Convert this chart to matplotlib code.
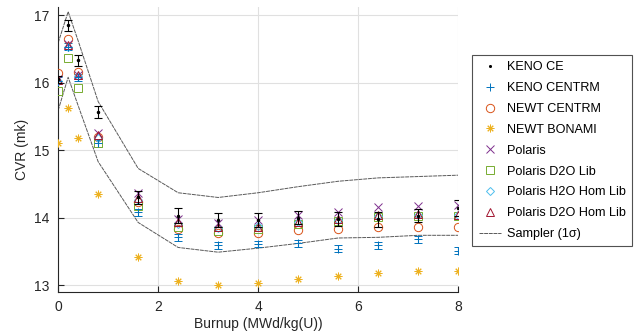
import matplotlib
matplotlib.use('Agg')
import matplotlib.pyplot as plt
from matplotlib.lines import Line2D

plt.rcParams['font.family'] = ['Liberation Sans', 'DejaVu Sans']

# burnup steps (MWd/kg(U))
burnup = [0, 0.2, 0.4, 0.8, 1.6, 2.4, 3.2, 4.0, 4.8, 5.6, 6.4, 7.2, 8.0]

# CVR values (mk)
keno_ce     = [16.05, 16.85, 16.33, 15.57, 14.30, 14.03, 13.97, 13.97, 14.00, 13.98, 13.98, 14.03, 14.15]
keno_ce_err = [0.05, 0.08, 0.08, 0.09, 0.10, 0.11, 0.10, 0.10, 0.10, 0.10, 0.11, 0.10, 0.12]
keno_centrm     = [16.03, 16.53, 16.08, 15.10, 14.08, 13.71, 13.59, 13.61, 13.62, 13.54, 13.59, 13.68, 13.51]
keno_centrm_err = [0.05] * 13
newt_centrm = [16.14, 16.65, 16.16, 15.20, 14.24, 13.84, 13.78, 13.77, 13.82, 13.83, 13.86, 13.87, 13.86]
newt_bonami = [15.10, 15.62, 15.18, 14.35, 13.42, 13.07, 13.00, 13.03, 13.10, 13.14, 13.18, 13.21, 13.21]
polaris     = [16.06, 16.57, 16.12, 15.25, 14.36, 13.98, 13.92, 13.96, 14.04, 14.08, 14.16, 14.17, 14.19]
polaris_d2o = [15.87, 16.37, 15.92, 15.10, 14.18, 13.86, 13.80, 13.83, 13.90, 13.95, 14.01, 14.02, 14.03]
polaris_h2o_hom = [16.03, 16.53, 16.10, 15.18, 14.26, 13.90, 13.85, 13.88, 13.93, 13.97, 14.02, 14.04, 14.04]
polaris_d2o_hom = [16.04, 16.56, 16.12, 15.23, 14.29, 13.93, 13.86, 13.87, 13.94, 13.98, 14.04, 14.05, 14.04]

# Sampler 1-sigma band
sampler_upper = [16.59, 17.05, 16.62, 15.72, 14.73, 14.37, 14.30, 14.37, 14.46, 14.54, 14.59, 14.61, 14.63]
sampler_lower = [15.59, 16.08, 15.66, 14.83, 13.93, 13.56, 13.49, 13.55, 13.62, 13.70, 13.71, 13.74, 13.74]

C_BLUE   = (0, 0.447, 0.741)
C_ORANGE = (0.85, 0.325, 0.098)
C_YELLOW = (0.929, 0.694, 0.125)
C_PURPLE = (0.494, 0.184, 0.556)
C_GREEN  = (0.466, 0.674, 0.188)
C_CYAN   = (0.301, 0.745, 0.933)
C_RED    = (0.635, 0.078, 0.184)
ASTERISK = (8, 2, 0)

fig = plt.figure(figsize=(6.39, 3.33), dpi=100)
ax = fig.add_axes([0.091, 0.123, 0.626, 0.856])

band_style = dict(color='0.35', linewidth=0.7, linestyle=(0, (4, 0.8)))
ax.plot(burnup, sampler_upper, zorder=2, **band_style)
ax.plot(burnup, sampler_lower, zorder=2, **band_style)

ms = 6
mew = 0.7
ax.errorbar(burnup, keno_ce, yerr=keno_ce_err, fmt='.', color='black',
            markersize=3, elinewidth=0.8, capsize=3, capthick=0.8, zorder=4)
ax.errorbar(burnup, keno_centrm, yerr=keno_centrm_err, fmt='+', color=C_BLUE,
            markersize=ms, markeredgewidth=mew, elinewidth=0.8, capsize=3,
            capthick=0.8, zorder=3)
ax.plot(burnup, newt_centrm, 'o', color=C_ORANGE, markerfacecolor='none',
        markersize=ms, markeredgewidth=mew, zorder=3)
ax.plot(burnup, newt_bonami, marker=ASTERISK, linestyle='none', color=C_YELLOW,
        markersize=5.5, markeredgewidth=mew, zorder=3)
ax.plot(burnup, polaris, 'x', color=C_PURPLE,
        markersize=ms, markeredgewidth=mew, zorder=3)
ax.plot(burnup, polaris_d2o, 's', color=C_GREEN, markerfacecolor='none',
        markersize=ms, markeredgewidth=mew, zorder=3)
ax.plot(burnup, polaris_h2o_hom, 'D', color=C_CYAN, markerfacecolor='none',
        markersize=4.5, markeredgewidth=mew, zorder=3)
ax.plot(burnup, polaris_d2o_hom, '^', color=C_RED, markerfacecolor='none',
        markersize=ms, markeredgewidth=mew, zorder=3)

ax.set_xlim(0, 8)
ax.set_ylim(12.9, 17.12)
ax.set_xticks([0, 2, 4, 6, 8])
ax.set_yticks([13, 14, 15, 16, 17])
ax.grid(True, color='0.88', linewidth=0.8)
ax.set_axisbelow(True)

for side in ['top', 'right']:
    ax.spines[side].set_visible(False)
for side in ['left', 'bottom']:
    ax.spines[side].set_color('0.15')
    ax.spines[side].set_linewidth(0.8)
ax.tick_params(direction='in', length=4, width=0.8, colors='0.15', labelsize=10, pad=6)

ax.set_xlabel('Burnup (MWd/kg(U))', fontsize=10, color='0.15', labelpad=2)
ax.set_ylabel('CVR (mk)', fontsize=10, color='0.15', labelpad=4)

# legend proxies: markers only, like the original
def proxy(marker, color, size=ms, face='none'):
    return Line2D([], [], marker=marker, color=color, markerfacecolor=face,
                  markersize=size, markeredgewidth=mew, linestyle='none')

handles = [
    proxy('.', 'black', 3, face='black'),
    proxy('+', C_BLUE),
    proxy('o', C_ORANGE),
    proxy(ASTERISK, C_YELLOW, 5.5),
    proxy('x', C_PURPLE),
    proxy('s', C_GREEN),
    proxy('D', C_CYAN, 4.5),
    proxy('^', C_RED),
    Line2D([], [], **band_style),
]
labels = ['KENO CE', 'KENO CENTRM', 'NEWT CENTRM', 'NEWT BONAMI', 'Polaris',
          'Polaris D2O Lib', 'Polaris H2O Hom Lib', 'Polaris D2O Hom Lib', 'Sampler (1\u03c3)']
leg = fig.legend(handles, labels, loc='upper left',
                 bbox_to_anchor=(0.739, 0.835), fontsize=9.1, frameon=True,
                 fancybox=False, edgecolor='0.15', labelspacing=0.70,
                 handlelength=1.8, handletextpad=0.45, borderpad=0.5,
                 borderaxespad=0)
leg.get_frame().set_linewidth(0.8)

fig.savefig('out.png', dpi=100)
